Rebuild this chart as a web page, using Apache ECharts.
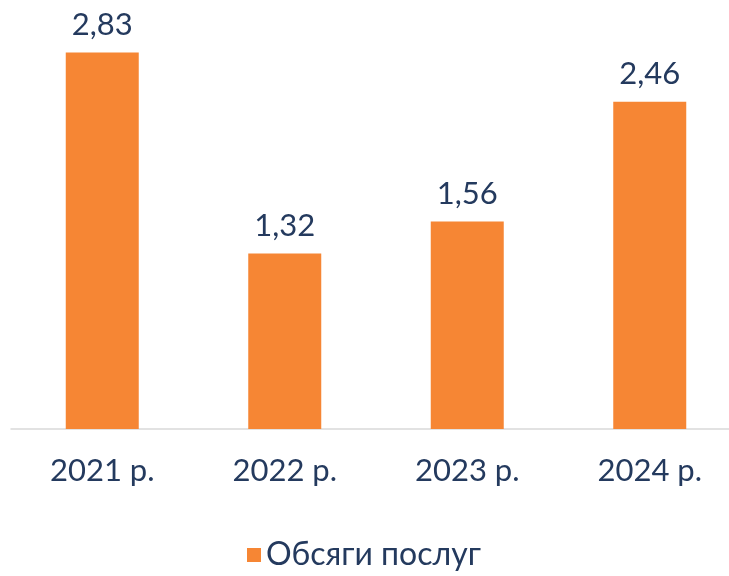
<!DOCTYPE html>
<html>
<head>
<meta charset="utf-8">
<script src="https://cdn.jsdelivr.net/npm/echarts@6/dist/echarts.min.js"></script>
<style>
  html, body { margin: 0; padding: 0; background: #ffffff; }
  #chart { width: 729px; height: 576px; }
</style>
</head>
<body>
<div id="chart"></div>
<script>
// Service volumes by year
const categories = ['2021 р.', '2022 р.', '2023 р.', '2024 р.'];
const seriesName = 'Обсяги послуг';
const values = [2.83, 1.32, 1.56, 2.46];

const textColor = '#243a5e';
const barColor = '#f68634';
const fontFamily = 'Lato, "Open Sans", sans-serif';

const chart = echarts.init(document.getElementById('chart'));
chart.setOption({
  animation: false,
  textStyle: { fontFamily: fontFamily },
  grid: {
    left: 11, width: 730, top: 30, bottom: 147,
    containLabel: false,
    outerBoundsMode: 'none'
  },
  legend: {
    bottom: 0,
    left: 242,
    itemWidth: 14,
    itemHeight: 14,
    icon: 'rect',
    itemGap: 10,
    textStyle: { color: textColor, fontSize: 32, fontFamily: fontFamily },
    data: [seriesName]
  },
  xAxis: {
    type: 'category',
    data: categories,
    axisLine: { show: true, lineStyle: { color: '#d9d9d9', width: 1.5 } },
    axisTick: { show: false },
    axisLabel: { color: textColor, fontSize: 31, margin: 26, fontFamily: fontFamily }
  },
  yAxis: {
    type: 'value',
    min: 0,
    max: 3,
    show: false,
    splitLine: { show: false }
  },
  series: [{
    name: seriesName,
    type: 'bar',
    data: values,
    barWidth: '40%',
    itemStyle: { color: barColor },
    label: {
      show: true,
      position: 'top',
      distance: 12,
      color: textColor,
      fontSize: 31,
      fontFamily: fontFamily,
      formatter: p => p.value.toFixed(2).replace('.', ',')
    }
  }]
});
</script>
</body>
</html>
